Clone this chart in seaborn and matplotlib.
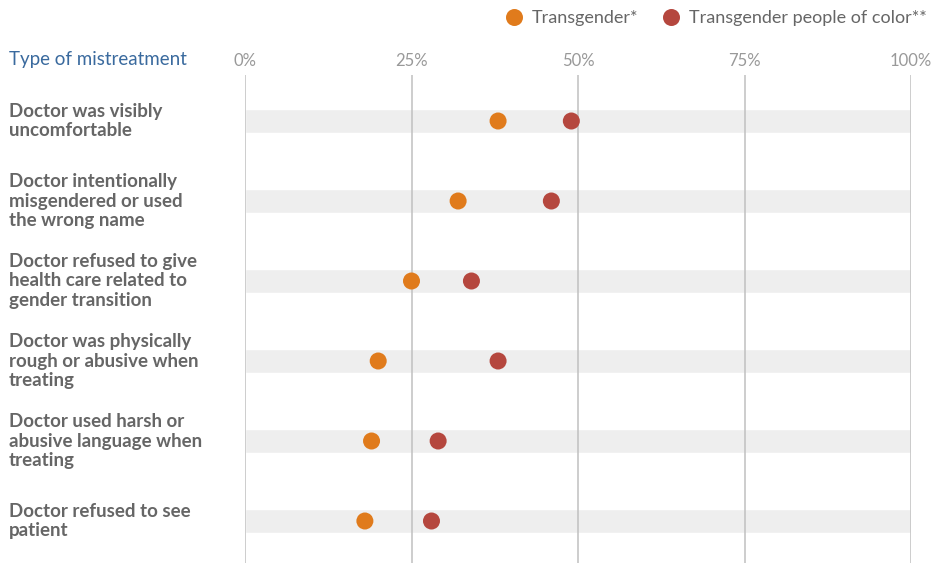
import pandas as pd
import matplotlib
matplotlib.use("Agg")
import matplotlib.pyplot as plt
import matplotlib.transforms as mtransforms
import seaborn as sns

# Data
categories = [
    "Doctor was visibly\nuncomfortable",
    "Doctor intentionally\nmisgendered or used\nthe wrong name",
    "Doctor refused to give\nhealth care related to\ngender transition",
    "Doctor was physically\nrough or abusive when\ntreating",
    "Doctor used harsh or\nabusive language when\ntreating",
    "Doctor refused to see\npatient",
]
transgender = [38, 32, 25, 20, 19, 18]
trans_poc = [49, 46, 34, 38, 29, 28]
series_names = ["Transgender*", "Transgender people of color**"]
x_ticks = [0, 25, 50, 75, 100]
x_ticklabels = ["0%", "25%", "50%", "75%", "100%"]

df = pd.DataFrame({
    "category": categories * 2,
    "value": transgender + trans_poc,
    "group": [series_names[0]] * len(categories) + [series_names[1]] * len(categories),
})
band = pd.DataFrame({"category": categories, "value": [100] * len(categories)})

sns.set_theme(style="white")
plt.rcParams["font.family"] = ["Lato", "DejaVu Sans"]

fig = plt.figure(figsize=(9.35, 5.63), dpi=100)
ax = fig.add_axes([245 / 935, 0, (911 - 245) / 935, 1 - 75 / 563])

# light grey bands behind each row
sns.barplot(data=band, x="value", y="category", orient="h", color="#eeeeee",
            width=0.3, ax=ax, zorder=1)

for x in x_ticks:
    ax.axvline(x, color="#c0c0c0", lw=1.1, zorder=2)

sns.scatterplot(data=df, x="value", y="category", hue="group",
                palette=["#e07b1c", "#b5473e"], s=150, edgecolor="none",
                ax=ax, zorder=3, legend=True)

ax.set_xlim(0, 100)
ax.set_ylim(len(categories) - 1 + 0.525, -0.575)
ax.xaxis.tick_top()
ax.set_xticks(x_ticks)
ax.set_xticklabels(x_ticklabels, color="#999999", fontsize=12)
ax.tick_params(axis="x", length=0, pad=4)
ax.set_xlabel("")
ax.set_ylabel("")
ax.set_yticks([])
for s in ax.spines.values():
    s.set_visible(False)

# row labels, left aligned at the figure edge
trans = mtransforms.blended_transform_factory(fig.transFigure, ax.transData)
for i, c in enumerate(categories):
    ax.text(9 / 935, i, c, transform=trans, ha="left", va="center",
            fontsize=13.5, fontweight="bold", color="#666666", linespacing=1.2)

fig.text(9 / 935, 1 - 60 / 563, "Type of mistreatment", color="#3a6a9e",
         fontsize=13.5, ha="left", va="center")

handles, labels = ax.get_legend_handles_labels()
ax.legend(handles, labels, loc="center right", bbox_to_anchor=(0.999, 1 - 18 / 563),
          bbox_transform=fig.transFigure, ncol=2, frameon=False, fontsize=13,
          handletextpad=0.0, columnspacing=0.8, markerscale=1.0,
          labelcolor="#666666", borderaxespad=0)

fig.savefig("out.png", dpi=100)
